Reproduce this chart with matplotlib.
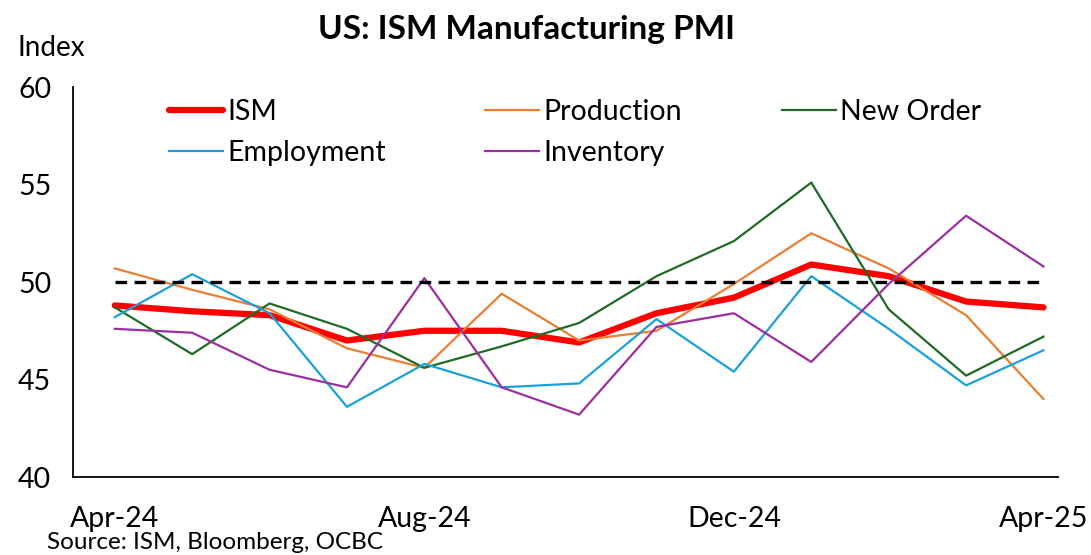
import matplotlib
matplotlib.use("Agg")
import matplotlib.pyplot as plt
import numpy as np

plt.rcParams['font.family'] = ['Lato', 'DejaVu Sans']

# monthly readings, Apr-24 .. Apr-25
months = ['Apr-24', 'May-24', 'Jun-24', 'Jul-24', 'Aug-24', 'Sep-24', 'Oct-24',
          'Nov-24', 'Dec-24', 'Jan-25', 'Feb-25', 'Mar-25', 'Apr-25']
ism = [48.8, 48.5, 48.3, 47.0, 47.5, 47.5, 46.9, 48.4, 49.2, 50.9, 50.3, 49.0, 48.7]
production = [50.7, 49.6, 48.6, 46.6, 45.6, 49.4, 47.0, 47.5, 49.9, 52.5, 50.7, 48.3, 44.0]
new_order = [48.7, 46.3, 48.9, 47.6, 45.6, 46.7, 47.9, 50.3, 52.1, 55.1, 48.6, 45.2, 47.2]
employment = [48.2, 50.4, 48.4, 43.6, 45.8, 44.6, 44.8, 48.1, 45.4, 50.3, 47.6, 44.7, 46.5]
inventory = [47.6, 47.4, 45.5, 44.6, 50.2, 44.6, 43.2, 47.7, 48.4, 45.9, 49.9, 53.4, 50.8]
threshold = 50
tick_labels = ['Apr-24', 'Aug-24', 'Dec-24', 'Apr-25']

x = np.arange(len(months))

fig = plt.figure(figsize=(10.91, 5.55), dpi=100)
ax = fig.add_axes([0.0669, 0.1405, 0.903, 0.7027])

l_ism, = ax.plot(x, ism, color='#FF0000', lw=4.5, solid_capstyle='round', label='ISM', zorder=3)
l_prod, = ax.plot(x, production, color='#ED7D31', lw=1.6, label='Production', zorder=4)
l_new, = ax.plot(x, new_order, color='#1E6B25', lw=1.6, label='New Order', zorder=4)
l_emp, = ax.plot(x, employment, color='#1AA1DC', lw=1.6, label='Employment', zorder=4)
l_inv, = ax.plot(x, inventory, color='#9B2F9F', lw=1.6, label='Inventory', zorder=4)
ax.plot(x, [threshold] * len(x), color='black', lw=2.4, ls=(0, (3.5, 2.2)), zorder=5)

ax.set_xlim(-0.54, 12.19)
ax.set_ylim(40, 60)
ax.set_yticks([40, 45, 50, 55, 60])
ax.set_xticks([0, 4, 8, 12])
ax.set_xticklabels(tick_labels)
ax.tick_params(axis='both', length=0, labelsize=20.5)
ax.tick_params(axis='x', pad=21)
ax.tick_params(axis='y', pad=39.5)
for lab in ax.get_yticklabels():
    lab.set_horizontalalignment('left')
ax.spines['top'].set_visible(False)
ax.spines['right'].set_visible(False)
ax.spines['left'].set_linewidth(1.3)
ax.spines['bottom'].set_linewidth(1.3)

# legend reads row by row: ISM, Production, New Order / Employment, Inventory
ax.legend(handles=[l_ism, l_emp, l_prod, l_inv, l_new], ncol=3, frameon=False,
          fontsize=20.5, handlelength=1.9, handletextpad=0.15, columnspacing=3.5,
          labelspacing=0.55, loc='upper left', bbox_to_anchor=(0.071, 1.036))

fig.text(0.483, 0.946, 'US: ISM Manufacturing PMI', ha='center', va='center',
         fontsize=24, fontweight='bold')
fig.text(0.016, 0.913, 'Index', ha='left', va='center', fontsize=20)
fig.text(0.043, 0.022, 'Source: ISM, Bloomberg, OCBC', ha='left', va='center', fontsize=17.5)

fig.savefig('out.png', dpi=100)
